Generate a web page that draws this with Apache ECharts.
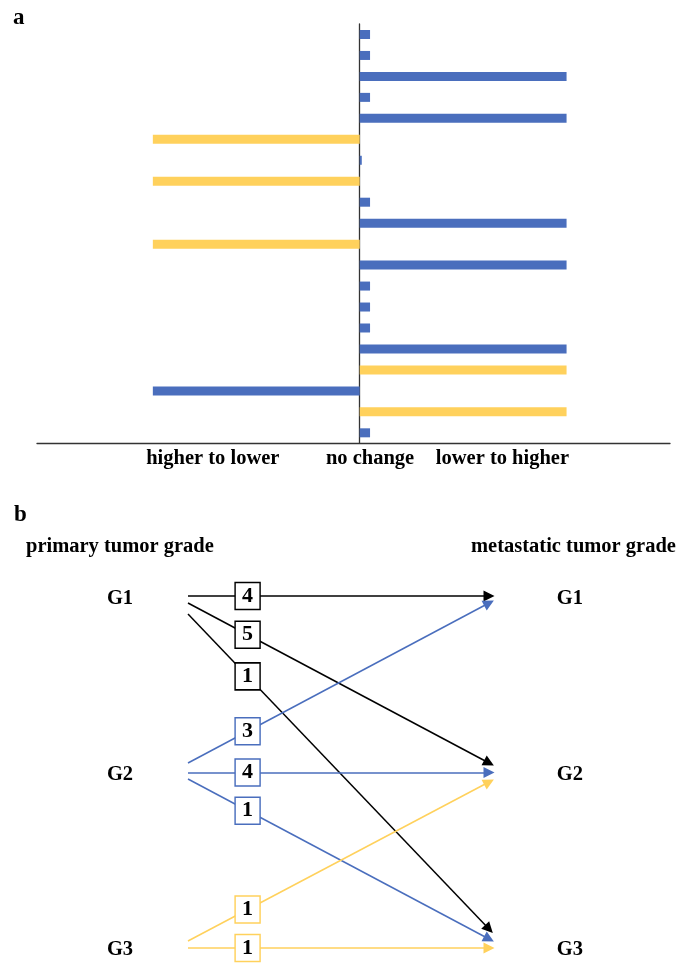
<!DOCTYPE html>
<html><head><meta charset="utf-8">
<script src="https://cdn.jsdelivr.net/npm/echarts@6/dist/echarts.min.js"></script>
<style>html,body{margin:0;padding:0;background:#fff}#c{width:678px;height:967px}</style>
</head><body><div id="c"></div>
<script>
// ---- Panel a data (rows top to bottom) ----
const rowCats = ['1','2','3','4','5','6','7','8','9','10','11','12','13','14','15','16','17','18','19','20'];
const blueVals = [0.05,0.05,1,0.05,1,null,0.01,null,0.05,1,null,1,0.05,0.05,0.05,1,null,-1,null,0.05];
const yellowVals = [null,null,null,null,null,-1,null,-1,null,null,-1,null,null,null,null,null,1,null,1,null];
const xTickLabels = ['higher to lower','no change','lower to higher'];
const xTickValues = [-0.71,0.05,0.69];

// ---- Panel b data ----
const flowFrom = [1,1,1,2,2,2,3,3];
const flowTo = [1,2,3,1,2,3,2,3];
const flowCount = [4,5,1,3,4,1,1,1];
const gradeLabels = ['G1','G2','G3'];

// ---- layout / style ----
const BLUE = '#4A6EBD', YELLOW = '#FFD15C', BLACK = '#000000';
const gradeColors = [BLACK, BLUE, YELLOW];
const FONT = '"Liberation Serif", "Times New Roman", serif';
const pxPerGrade = 175.5;
const startOffPx = [-1,6,17,-9.5,0,6.5,-7,0];
const endOffPx = [-1,-9.5,-19,6,0,-9,9.5,0];
const boxT = 0.198;
const leftLabelX = -0.226, rightLabelX = 1.269;

const chart = echarts.init(document.getElementById('c'), null, {renderer:'canvas'});

const lineData = [], boxData = [];
for (let i = 0; i < flowFrom.length; i++) {
  const y0 = flowFrom[i] + startOffPx[i] / pxPerGrade;
  const y1 = flowTo[i] + endOffPx[i] / pxPerGrade;
  const col = gradeColors[flowFrom[i]-1];
  lineData.push({coords: [[0, y0], [1, y1]], lineStyle: {color: col}, symbol:['none','triangle']});
  boxData.push({value: [boxT, y0 + (y1 - y0) * boxT, flowCount[i]], itemStyle: {borderColor: col}});
}
const leftLabels = gradeLabels.map((g, i) => ({value: [leftLabelX, i + 1], name: g}));
const rightLabels = gradeLabels.map((g, i) => ({value: [rightLabelX, i + 1], name: g}));

const gx0 = 188, gxw = 301, gy0 = 597;
const xbMin = -0.3, xbMax = 1.35, ybMin = 0.9, ybMax = 3.1;

chart.setOption({
  animation: false,
  graphic: [
    {type:'text', left: 13, top: 7, style:{text:'a', font:'bold 23px ' + FONT, fill:'#000'}},
    {type:'text', left: 14, top: 504, style:{text:'b', font:'bold 23px ' + FONT, fill:'#000'}},
    {type:'text', left: 26, top: 536, style:{text:'primary tumor grade', font:'bold 20.5px ' + FONT, fill:'#000'}},
    {type:'text', left: 471, top: 536, style:{text:'metastatic tumor grade', font:'bold 20.5px ' + FONT, fill:'#000'}}
  ],
  grid: [
    {left: 37, right: 8, top: 24, bottom: 967 - 443.3},
    {left: gx0 + xbMin * gxw, width: (xbMax - xbMin) * gxw, top: gy0 + (ybMin - 1) * pxPerGrade, height: (ybMax - ybMin) * pxPerGrade}
  ],
  xAxis: [
    {gridIndex: 0, type: 'value', min: -1.56, max: 1.5, splitLine: {show: false},
     axisLine: {show: true, lineStyle: {color: '#333', width: 1.3}}, axisTick: {show: false},
     axisLabel: {show: true, customValues: xTickValues, margin: 5,
       formatter: v => { const k = xTickValues.findIndex(t => Math.abs(t - v) < 1e-6); return k >= 0 ? xTickLabels[k] : ''; },
       fontFamily: FONT, fontWeight: 'bold', fontSize: 20.5, color: '#000'}},
    {gridIndex: 1, type: 'value', min: xbMin, max: xbMax, show: false}
  ],
  yAxis: [
    {gridIndex: 0, type: 'category', data: rowCats, inverse: true,
     axisLine: {show: true, onZero: true, lineStyle: {color: '#333', width: 1.3}},
     axisTick: {show: false}, axisLabel: {show: false}, splitLine: {show: false}},
    {gridIndex: 1, type: 'value', min: ybMin, max: ybMax, inverse: true, show: false}
  ],
  series: [
    {type: 'bar', xAxisIndex: 0, yAxisIndex: 0, data: blueVals, barWidth: 9, barGap: '-100%',
     itemStyle: {color: BLUE}},
    {type: 'bar', xAxisIndex: 0, yAxisIndex: 0, data: yellowVals, barWidth: 9, barGap: '-100%',
     itemStyle: {color: YELLOW}},
    {type: 'lines', coordinateSystem: 'cartesian2d', xAxisIndex: 1, yAxisIndex: 1, clip: false,
     symbolSize: 11, lineStyle: {width: 1.5, opacity: 1, curveness: 0}, data: lineData, z: 2},
    {type: 'scatter', xAxisIndex: 1, yAxisIndex: 1, clip: false, symbol: 'rect', symbolSize: [25, 27],
     itemStyle: {color: '#fff', borderWidth: 1.5, opacity: 1}, z: 3,
     label: {show: true, position: 'inside', formatter: p => String(p.value[2]),
       fontFamily: FONT, fontWeight: 'bold', fontSize: 22, color: '#000'},
     data: boxData},
    {type: 'scatter', xAxisIndex: 1, yAxisIndex: 1, clip: false, symbolSize: 0, z: 3,
     itemStyle: {opacity: 1, color: '#000'},
     label: {show: true, position: 'inside', formatter: p => p.name, offset: [0, 2],
       fontFamily: FONT, fontWeight: 'bold', fontSize: 20.5, color: '#000', opacity: 1},
     data: leftLabels.concat(rightLabels)}
  ]
});
</script></body></html>
